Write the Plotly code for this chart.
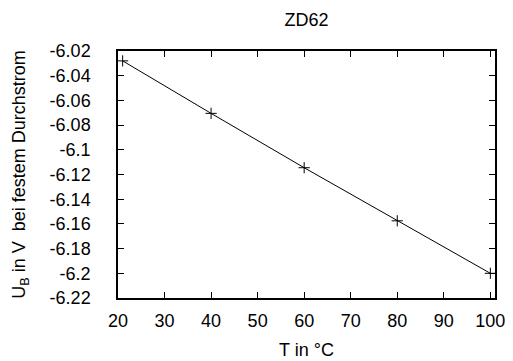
import plotly.graph_objects as go

temps = [21, 40, 60, 80, 100]
u_b = [-6.028, -6.0705, -6.1145, -6.1575, -6.2]

x_ticks = [20, 30, 40, 50, 60, 70, 80, 90, 100]
y_ticks = [-6.22, -6.20, -6.18, -6.16, -6.14, -6.12, -6.10, -6.08, -6.06, -6.04, -6.02]
y_tick_labels = ["-6.22", "-6.2", "-6.18", "-6.16", "-6.14", "-6.12", "-6.1", "-6.08", "-6.06", "-6.04", "-6.02"]

FONT = "Liberation Sans, Arial, sans-serif"

fig = go.Figure()
fig.add_trace(go.Scatter(
    x=temps, y=u_b, mode="lines+markers",
    line=dict(color="black", width=1),
    marker=dict(symbol="cross-thin", size=8, color="black",
                line=dict(color="black", width=1)),
    showlegend=False,
))

axis_common = dict(
    showline=True, linecolor="black", linewidth=1.5, mirror="ticks",
    ticks="inside", ticklen=6, tickwidth=1, tickcolor="black",
    showgrid=False, zeroline=False, automargin=False,
    tickfont=dict(family=FONT, size=18, color="black"),
)

fig.update_layout(
    width=513, height=361,
    margin=dict(l=118, r=18, t=51, b=63, autoexpand=False),
    paper_bgcolor="white", plot_bgcolor="white",
    font=dict(family=FONT, color="black"),
    title=dict(text="ZD62", x=(118 + 495) / 2 / 513, xanchor="center",
               y=1 - 20 / 361, yanchor="middle",
               font=dict(family=FONT, size=18, color="black")),
    xaxis=dict(range=[20, 101], tickvals=x_ticks,
               ticktext=[str(v) for v in x_ticks],
               ticklabelstandoff=6,
               title=dict(text="T in °C", standoff=13,
                          font=dict(family=FONT, size=18, color="black")),
               **axis_common),
    yaxis=dict(range=[-6.22, -6.02], tickvals=y_ticks,
               ticktext=[t + "\u00a0" for t in y_tick_labels],
               ticklabelstandoff=17,
               title=dict(text="U<sub>B</sub> in V  bei festem Durchstrom", standoff=19,
                          font=dict(family=FONT, size=18, color="black")),
               **axis_common),
)

fig.write_html("out.html", config={"displayModeBar": False},
               post_script="document.body.style.margin='0';")
